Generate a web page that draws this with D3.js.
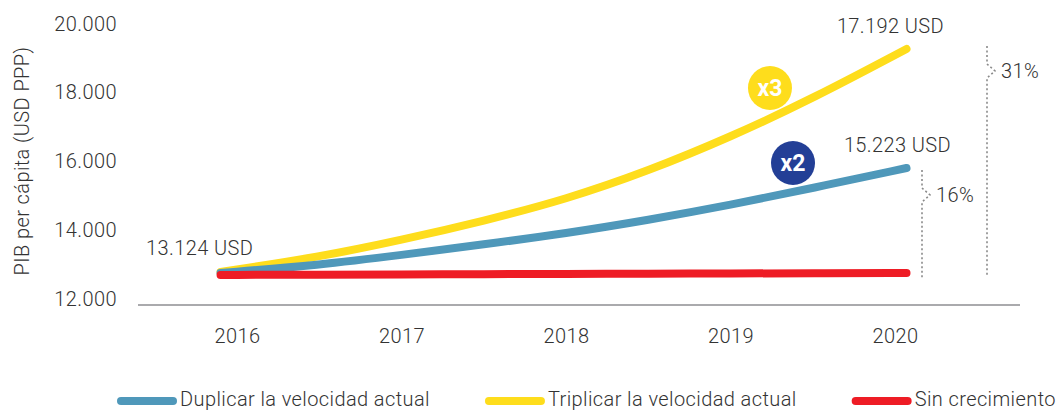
<!DOCTYPE html>
<html>
<head>
<meta charset="utf-8">
<script src="https://cdn.jsdelivr.net/npm/d3@7"></script>
<style>
  body { margin: 0; background: #fff; }
  svg text { font-family: Roboto, "Liberation Sans", sans-serif; font-weight: 300; letter-spacing: 0.4px; fill: #333; }
</style>
</head>
<body>
<svg id="chart"></svg>
<script>
// data (values in plotted units, labels as printed)
const years = [2015.9, 2016.5, 2017, 2017.5, 2018, 2018.5, 2019, 2019.5, 2020.07];
const tickYears = [2016, 2017, 2018, 2019, 2020];
const yTicks = [12000, 14000, 16000, 18000, 20000];
const duplicar = [12727, 12960, 13251, 13560, 13880, 14269, 14705, 15200, 15782];
const triplicar = [12756, 13193, 13687, 14240, 14870, 15695, 16684, 17802, 19244];
const sinCrecimiento = [12670, 12680, 12685, 12695, 12700, 12708, 12714, 12720, 12727];
const seriesNames = ["Duplicar la velocidad actual", "Triplicar la velocidad actual", "Sin crecimiento"];
const seriesColors = ["#4f98ba", "#fedd1c", "#ee1c25"];
const endLabels = ["15.223 USD", "17.192 USD"];
const startLabel = "13.124 USD";
const pctLabels = ["16%", "31%"];

let width = 1057, height = 410;
let svg = d3.select("#chart").attr("width", width).attr("height", height);

let x = d3.scaleLinear().domain([2016, 2020]).range([237, 895]);
let y = d3.scaleLinear().domain([12000, 20000]).range([298, 23]);

let locale = d3.formatLocale({decimal: ",", thousands: ".", grouping: [3], currency: ["", ""]});
let fmt = locale.format(",.0f");

// y axis labels
let yAxis = d3.axisLeft(y).tickValues(yTicks).tickFormat(fmt).tickSize(0).tickPadding(0);
let gy = svg.append("g").attr("transform", "translate(117,0)").call(yAxis);
gy.select(".domain").remove();
gy.selectAll("text").attr("font-size", 20).attr("font-family", null).attr("fill", null).attr("dy", "0.36em");

svg.append("text")
    .attr("transform", "translate(29,161) rotate(-90)")
    .attr("text-anchor", "middle")
    .attr("font-size", 20)
    .text("PIB per cápita (USD PPP)");

// x axis
svg.append("line")
    .attr("x1", 138).attr("x2", 1020)
    .attr("y1", 305).attr("y2", 305)
    .attr("stroke", "#aaaaad").attr("stroke-width", 2);
let xAxis = d3.axisBottom(x).tickValues(tickYears).tickFormat(d3.format("d")).tickSize(0).tickPadding(0);
let gx = svg.append("g").attr("transform", "translate(0,343)").call(xAxis);
gx.select(".domain").remove();
gx.selectAll("text").attr("font-size", 20).attr("font-family", null).attr("fill", null).attr("dy", 0);

// lines
let line = d3.line()
    .x((d, i) => x(years[i]))
    .y(d => y(d))
    .curve(d3.curveBasis);

let drawOrder = [[triplicar, 1], [duplicar, 0], [sinCrecimiento, 2]];
svg.selectAll(".serie")
    .data(drawOrder)
    .enter().append("path")
    .attr("class", "serie")
    .attr("d", d => line(d[0]))
    .attr("fill", "none")
    .attr("stroke", d => seriesColors[d[1]])
    .attr("stroke-width", 8)
    .attr("stroke-linecap", "round");

// value labels
let last = years.length - 1;
svg.append("text")
    .attr("x", 146).attr("y", 255)
    .attr("font-size", 20)
    .text(startLabel);
svg.append("text")
    .attr("x", x(years[last]) - 16).attr("y", y(triplicar[last]) - 16)
    .attr("text-anchor", "middle").attr("font-size", 20)
    .text(endLabels[1]);
svg.append("text")
    .attr("x", x(years[last]) - 9).attr("y", y(duplicar[last]) - 16)
    .attr("text-anchor", "middle").attr("font-size", 20)
    .text(endLabels[0]);

// badges
let badges = [
    {year: 2019.24, value: 18109, color: "#fedd1c", text: "x3"},
    {year: 2019.38, value: 15927, color: "#233f96", text: "x2"}
];
let badge = svg.selectAll(".badge")
    .data(badges)
    .enter().append("g")
    .attr("class", "badge")
    .attr("transform", d => "translate(" + x(d.year) + "," + y(d.value) + ")");
badge.append("circle").attr("r", 22).attr("fill", d => d.color);
badge.append("text")
    .attr("text-anchor", "middle").attr("dy", "0.36em")
    .attr("font-size", 23)
    .style("font-weight", 700)
    .style("letter-spacing", "0px")
    .style("fill", "#fff")
    .text(d => d.text);

// dotted brackets
function bracket(bx, top, bottom, label) {
    let mid = top + 25;
    let pts = [[bx, top], [bx, mid - 7], [bx + 8, mid], [bx, mid + 7], [bx, bottom]];
    svg.append("path")
        .attr("d", d3.line()(pts))
        .attr("fill", "none")
        .attr("stroke", "#8a8a8a")
        .attr("stroke-width", 1.6)
        .attr("stroke-dasharray", "2,2.5");
    svg.append("text")
        .attr("x", bx + 14).attr("y", mid + 7)
        .attr("font-size", 20)
        .text(label);
}
bracket(922, y(duplicar[last]) + 2, y(sinCrecimiento[last]) + 6, pctLabels[0]);
bracket(987, y(triplicar[last]) - 3, y(sinCrecimiento[last]) + 3, pctLabels[1]);

// legend
let lx = 117;
seriesNames.forEach(function(name, i) {
    svg.append("line")
        .attr("x1", lx + 4).attr("x2", lx + 56)
        .attr("y1", 401).attr("y2", 401)
        .attr("stroke", seriesColors[i])
        .attr("stroke-width", 8)
        .attr("stroke-linecap", "round");
    let t = svg.append("text")
        .attr("x", lx + 63).attr("y", 406)
        .attr("font-size", 20)
        .text(name);
    lx += 63 + t.node().getComputedTextLength() + 55;
});
</script>
</body>
</html>
